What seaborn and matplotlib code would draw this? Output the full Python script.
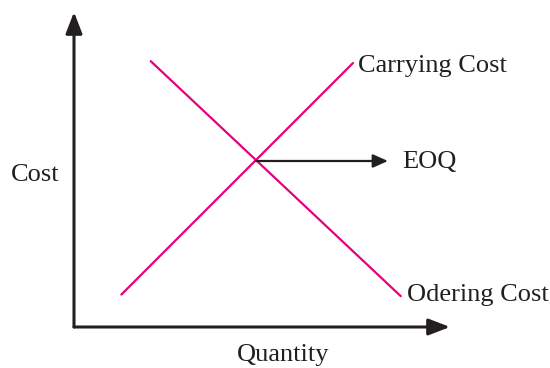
import numpy as np
import pandas as pd
import matplotlib
matplotlib.use("Agg")
import matplotlib.pyplot as plt
import seaborn as sns

# endpoints of the two cost lines (quantity, cost) on a 0-100 scale
carrying_qty = [12.6, 74.2]
carrying_cost = [10.3, 83.8]
ordering_qty = [20.4, 86.9]
ordering_cost = [84.4, 9.8]
eoq_point = (48.4, 52.7)
eoq_arrow_end = 83.5

line_color = "#e6007e"
ink = "#231f20"

sns.set_theme(style="white")
plt.rcParams['font.family'] = ['Liberation Serif', 'DejaVu Serif']

df = pd.DataFrame({
    "quantity": carrying_qty + ordering_qty,
    "cost": carrying_cost + ordering_cost,
    "curve": ["Carrying Cost"] * 2 + ["Odering Cost"] * 2,
})

fig = plt.figure(figsize=(5.5, 3.68), dpi=100)
W, H = 550, 368
left, right, top, bottom = 74, 450, 12, 327
ax = fig.add_axes([left / W, (H - bottom) / H, (right - left) / W, (bottom - top) / H])

sns.lineplot(data=df, x="quantity", y="cost", hue="curve",
             palette=[line_color, line_color], linewidth=1.6,
             legend=False, ax=ax)

ax.set_xlim(0, 100)
ax.set_ylim(0, 100)
ax.set_xticks([])
ax.set_yticks([])
ax.set_xlabel("")
ax.set_ylabel("")
for s in ax.spines.values():
    s.set_visible(False)
ax.patch.set_alpha(0)

# axes with arrowheads
axis_arrow = dict(arrowstyle="-|>,head_length=0.65,head_width=0.25",
                  mutation_scale=20, color=ink, lw=2.2,
                  shrinkA=0, shrinkB=0)
ax.annotate("", xy=(1, 0), xytext=(0, 0), xycoords="axes fraction",
            arrowprops=axis_arrow, annotation_clip=False)
ax.annotate("", xy=(0, 1), xytext=(0, 0), xycoords="axes fraction",
            arrowprops=axis_arrow, annotation_clip=False)

# EOQ arrow
ax.annotate("", xy=(eoq_arrow_end, eoq_point[1]), xytext=eoq_point,
            arrowprops=dict(arrowstyle="-|>,head_length=0.45,head_width=0.2",
                            mutation_scale=20, color=ink, lw=1.6,
                            shrinkA=0, shrinkB=0))

fs = 19
ax.text(75.5, 81, "Carrying Cost", fontsize=fs, color=ink, va="baseline", ha="left")
ax.text(87.2, 50.4, "EOQ", fontsize=fs, color=ink, va="baseline", ha="left")
ax.text(88.6, 8.3, "Odering Cost", fontsize=fs, color=ink, va="baseline", ha="left",
        clip_on=False)
fig.text(10.5 / W, (H - 181) / H, "Cost", fontsize=fs, color=ink, va="baseline", ha="left")
fig.text(283 / W, (H - 361) / H, "Quantity", fontsize=fs, color=ink, va="baseline", ha="center")

fig.savefig("out.png", dpi=100)
